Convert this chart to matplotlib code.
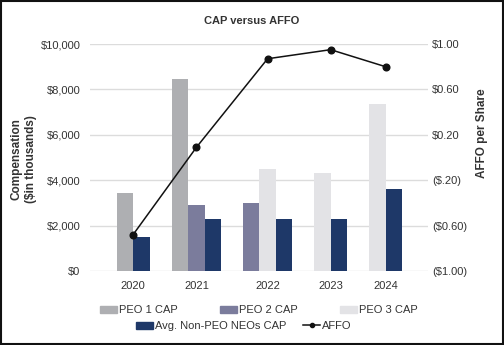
import matplotlib
matplotlib.use("Agg")
import matplotlib.pyplot as plt
from matplotlib.patches import Patch, Rectangle
from matplotlib.lines import Line2D
import numpy as np

plt.rcParams['font.family'] = ['Liberation Sans', 'DejaVu Sans']

years = ["2020", "2021", "2022", "2023", "2024"]
peo1_cap = [3450, 8450, None, None, None]
peo2_cap = [None, 2900, 3000, None, None]
peo3_cap = [None, None, 4500, 4300, 7350]
neo_cap = [1500, 2300, 2280, 2300, 3600]
affo = [-0.68, 0.09, 0.87, 0.95, 0.80]

left_ticks = [0, 2000, 4000, 6000, 8000, 10000]
left_labels = ["$0", "$2,000", "$4,000", "$6,000", "$8,000", "$10,000"]
right_ticks = [-1.0, -0.6, -0.2, 0.2, 0.6, 1.0]
right_labels = ["($1.00)", "($0.60)", "($.20)", "$0.20", "$0.60", "$1.00"]

series = [
    ("PEO 1 CAP", peo1_cap, "#aeafb2"),
    ("PEO 2 CAP", peo2_cap, "#7b7c9c"),
    ("PEO 3 CAP", peo3_cap, "#e3e3e6"),
    ("Avg. Non-PEO NEOs CAP", neo_cap, "#1e3868"),
]

# layout: category centres (in bar-width units)
centers = [2.61, 6.45, 10.76, 14.58, 17.91]
bw = 1.0

W, H = 504, 345
fig = plt.figure(figsize=(W / 100, H / 100), dpi=100)
ax = fig.add_axes([90 / W, 1 - 271 / H, (428 - 90) / W, (271 - 44) / H])
ax2 = ax.twinx()

text_c = "#333333"
for ci, c in enumerate(centers):
    present = [(name, vals[ci], col) for name, vals, col in series if vals[ci] is not None]
    n = len(present)
    for i, (name, v, col) in enumerate(present):
        x = c + (i - (n - 1) / 2) * bw
        ax.bar(x, v, width=bw, color=col, zorder=3)

ax.set_xlim(0, 20.48)
ax.set_ylim(0, 10000)
ax.set_yticks(left_ticks)
ax.set_yticklabels(left_labels)
ax.set_xticks(centers)
ax.set_xticklabels(years)
ax.yaxis.grid(True, color="#dcdcdc", lw=1, zorder=0)
ax.set_axisbelow(True)
for sp in ax.spines.values():
    sp.set_visible(False)
for sp in ax2.spines.values():
    sp.set_visible(False)
ax.tick_params(axis="both", length=0, labelsize=8, colors=text_c)
ax.tick_params(axis="y", pad=7)
ax.tick_params(axis="x", pad=7)

ax2.plot(centers, affo, color="#111111", lw=1.1, marker="o", markersize=4.8, zorder=5)
ax2.set_ylim(-1, 1)
ax2.set_yticks(right_ticks)
ax2.set_yticklabels(right_labels)
ax2.tick_params(axis="y", length=0, labelsize=8, colors=text_c, pad=3)

fig.text(252 / W, 1 - 21 / H, "CAP versus AFFO", ha="center", va="center",
         fontsize=8, fontweight="bold", color=text_c)
fig.text(23.5 / W, 1 - 159 / H, "Compensation\n($in thousands)", ha="center", va="center",
         rotation=90, fontsize=8.5, fontweight="bold", color=text_c, linespacing=1.3)
fig.text(482 / W, 1 - 133 / H, "AFFO per Share", ha="center", va="center",
         rotation=90, fontsize=8.5, fontweight="bold", color=text_c)

h1 = [Patch(color=col) for name, vals, col in series[:3]]
l1 = [name for name, vals, col in series[:3]]
leg1 = fig.legend(h1, l1, loc="center", bbox_to_anchor=(259 / W, 1 - 310 / H), ncol=3,
                  frameon=False, fontsize=8, handlelength=1.5, handleheight=0.6,
                  handletextpad=0.2, columnspacing=3.8, borderaxespad=0, borderpad=0)
for t in leg1.get_texts():
    t.set_color(text_c)
h2 = [Patch(color=series[3][2]), Line2D([], [], color="#111111", lw=1.1, marker="o", markersize=3)]
l2 = [series[3][0], "AFFO"]
leg2 = fig.legend(h2, l2, loc="center", bbox_to_anchor=(244 / W, 1 - 326 / H), ncol=2,
                  frameon=False, fontsize=8, handlelength=1.5, handleheight=0.6,
                  handletextpad=0.2, columnspacing=1.5, borderaxespad=0, borderpad=0)
for t in leg2.get_texts():
    t.set_color(text_c)

fig.patches.append(Rectangle((0.002, 0.003), 0.996, 0.994, transform=fig.transFigure,
                             fill=False, edgecolor="#111111", lw=1.5))

fig.savefig("out.png", dpi=100)
